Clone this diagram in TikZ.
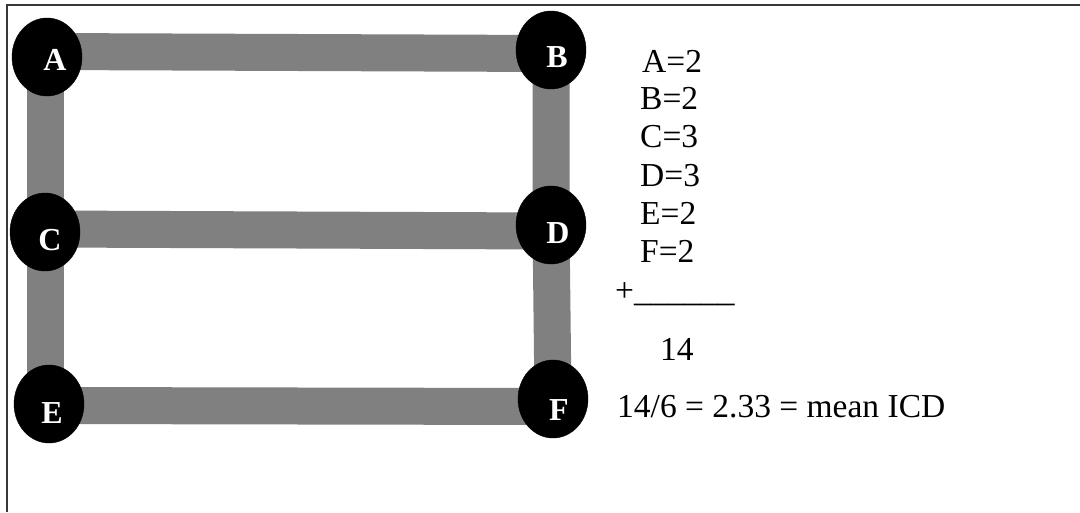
\documentclass[tikz,border=0pt]{standalone}
\usepackage{fontspec}
\setmainfont{Liberation Serif}
\usetikzlibrary{shapes.geometric,calc,backgrounds}
\definecolor{linkgray}{HTML}{808080}
\definecolor{framegray}{HTML}{383838}
\begin{document}
\begin{tikzpicture}[x=1pt,y=-1pt,
  vertex/.style={ellipse,fill=black,draw=black,minimum width=70pt,minimum height=78pt,inner sep=0pt},
  vlabel/.style={text=white,font=\fontsize{32}{32}\selectfont\bfseries,inner sep=0pt},
  link/.style={draw=linkgray,line width=37pt,line cap=butt},
  sumtext/.style={anchor=base west,inner sep=0pt,font=\fontsize{33.5}{38}\selectfont},
  frameline/.style={draw=framegray,line width=2pt}]
  \useasboundingbox (0,0) rectangle (1080,512);

  % frame edges
  \coordinate (ftl) at (7,5);
  \coordinate (ftr) at (1080,5);
  \coordinate (fbl) at (7,512);
  \draw[frameline] (fbl) -- (ftl) -- (ftr);

  % vertices
  \node[vertex,label={[vlabel,shift={(8,3)}]center:A}] (A) at (47,57) {};
  \node[vertex,label={[vlabel,shift={(6,7)}]center:B}] (B) at (551,50) {};
  \node[vertex,label={[vlabel,shift={(5,8)}]center:C}] (C) at (45,232) {};
  \node[vertex,label={[vlabel,shift={(7,8)}]center:D}] (D) at (551,225) {};
  \node[vertex,label={[vlabel,shift={(3,9)}]center:E}] (E) at (49,404) {};
  \node[vertex,label={[vlabel,shift={(6,11)}]center:F}] (F) at (553,399) {};

  % grey links behind the vertices
  \begin{scope}[on background layer]
    \draw[link] ($(A)+(0,-5.5)$) -- ($(B)+(0,3.5)$);
    \draw[link] ($(C)+(0,-3)$) -- ($(D)+(0,6)$);
    \draw[link] ($(E)+(0,1.5)$) -- ($(F)+(0,7.5)$);
    \draw[link] ($(A)+(-2,0)$) -- ($(C)+(0,0)$) -- ($(E)+(-4,0)$);
    \draw[link] (B.center) -- (D.center) -- (F.center);
  \end{scope}

  % sum of the vertex values
  \node[sumtext] (sa) at (642,72) {A=2};
  \node[sumtext] (sb) at (640,109) {B=2};
  \node[sumtext] (sc) at (640,147) {C=3};
  \node[sumtext] (sd) at (640,186) {D=3};
  \node[sumtext] (se) at (640,224) {E=2};
  \node[sumtext] (sf) at (640,262) {F=2};
  \node[sumtext] (splus) at (615,301) {+\_\_\_\_\_\_};
  \node[sumtext] (stotal) at (660,360) {14};
  \node[sumtext] (smean) at (617,417) {14/6 = 2.33 = mean ICD};
\end{tikzpicture}
\end{document}
